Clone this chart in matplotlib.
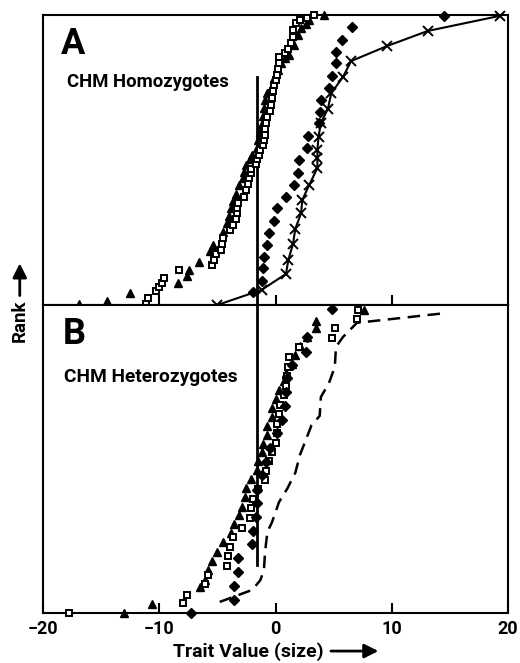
import matplotlib.pyplot as plt

plt.rcParams['font.family'] = ['Roboto', 'DejaVu Sans']
plt.rcParams['font.weight'] = 'bold'

# Panel A: CHM homozygotes (trait value, rank in % of panel height)
a_sq_x = [-11.1, -11.0, -10.3, -10.0, -9.8, -9.6, -8.3, -5.5, -5.3, -5.1, -4.7, -4.6, -4.5,
          -3.9, -3.7, -3.4, -3.3, -3.3, -3.2, -2.7, -2.5, -2.4, -2.3, -2.1, -2.1, -1.7, -1.6,
          -1.4, -1.3, -1.1, -1.0, -0.9, -0.9, -0.8, -0.7, -0.5, -0.4, -0.3, -0.2, -0.1, 0.0,
          0.1, 0.2, 0.3, 0.3, 0.8, 1.1, 1.3, 1.5, 1.5, 1.8, 2.1, 2.7, 3.3]
a_sq_y = [0.3, 2.4, 4.8, 6.2, 7.6, 9.3, 12.1, 13.8, 15.5, 17.6, 19.0, 21.0, 23.1, 25.9, 27.6,
          29.7, 31.7, 33.4, 35.2, 37.2, 39.7, 41.7, 43.8, 45.5, 46.9, 48.6, 50.3, 51.7, 53.4,
          55.2, 56.9, 58.6, 60.7, 62.8, 64.8, 66.9, 69.0, 71.4, 73.8, 75.9, 77.6, 79.3, 81.4,
          83.4, 85.5, 86.9, 88.3, 90.3, 92.4, 94.8, 97.2, 98.3, 99.0, 100.0]

a_tri_x = [-16.9, -14.5, -12.5, -8.4, -7.6, -7.4, -6.6, -5.6, -5.4, -4.5, -4.2, -4.0, -3.8,
           -3.7, -3.4, -3.1, -2.8, -2.7, -2.5, -2.2, -2.0, -1.6, -1.5, -1.3, -1.2, -1.1, -1.0,
           -0.9, -0.7, -0.3, -0.1, 0.2, 0.5, 0.8, 1.2, 1.6, 1.9, 2.2, 2.6, 2.9, 4.2]
a_tri_y = [0.3, 1.4, 4.1, 7.6, 10.0, 12.1, 14.8, 18.6, 20.7, 25.2, 28.3, 30.7, 33.4, 35.9,
           38.3, 41.4, 43.8, 45.9, 48.3, 50.3, 51.7, 54.1, 56.9, 59.7, 62.4, 65.2, 67.9, 70.7,
           73.1, 75.5, 78.3, 81.0, 83.4, 85.2, 86.2, 89.7, 93.1, 95.5, 96.9, 98.3, 100.0]

a_dia_x = [-1.9, -1.2, -1.1, -1.0, -0.7, -0.6, -0.1, 0.1, 0.9, 1.6, 1.9, 2.0, 2.7, 2.8, 3.7,
           3.8, 3.9, 4.6, 4.9, 5.2, 5.2, 5.7, 6.6, 14.5]
a_dia_y = [4.6, 8.3, 12.7, 16.7, 20.7, 24.8, 29.0, 33.3, 37.3, 41.4, 45.5, 50.0, 54.0, 58.3,
           62.7, 66.7, 70.7, 74.7, 79.0, 83.3, 87.3, 91.4, 95.8, 99.7]

a_x_x = [-5.0, -1.2, 0.9, 1.1, 1.5, 1.7, 2.2, 2.3, 2.9, 3.6, 3.6, 3.6, 3.7, 3.9, 4.5, 4.8,
         5.8, 6.5, 9.6, 13.1, 19.3]
a_x_y = [0.0, 5.2, 10.7, 15.5, 21.0, 26.2, 31.7, 36.2, 41.4, 47.2, 50.7, 53.4, 57.9, 62.8,
         67.6, 73.1, 78.6, 84.1, 89.3, 94.5, 99.7]

# Panel B: CHM heterozygotes
b_sq_x = [-17.8, -8.0, -7.6, -6.1, -5.8, -4.2, -4.1, -3.9, -3.7, -2.9, -2.2, -2.1, -1.9, -1.5,
          -0.9, -0.8, -0.6, -0.3, 0.0, 0.1, 0.1, 0.3, 0.4, 0.7, 0.9, 1.0, 1.1, 1.2, 2.0, 4.9,
          5.1, 7.0, 7.1]
b_sq_y = [0.0, 3.2, 5.8, 9.4, 12.3, 15.3, 18.5, 21.4, 24.7, 27.6, 30.8, 34.1, 37.0, 40.3,
          43.2, 46.1, 49.4, 52.3, 55.2, 58.4, 61.4, 64.6, 67.5, 70.8, 73.7, 76.9, 79.9, 83.1,
          86.4, 89.3, 92.5, 95.5, 98.4]

b_tri_x = [-13.0, -10.6, -6.5, -6.1, -5.8, -5.5, -5.0, -4.5, -3.8, -3.6, -3.1, -2.9, -2.6,
           -2.5, -2.1, -1.6, -1.5, -1.2, -1.1, -0.7, -0.7, -0.3, -0.3, 0.0, 0.3, 0.7, 0.9,
           1.4, 1.7, 2.1, 2.7, 3.5, 3.5, 7.6]
b_tri_y = [0.0, 2.9, 8.4, 10.7, 14.0, 16.9, 19.8, 23.1, 26.0, 28.9, 31.8, 34.4, 37.7, 40.6,
           43.5, 46.4, 49.4, 52.3, 54.9, 57.8, 60.7, 63.6, 66.6, 69.5, 72.4, 75.3, 77.9, 80.8,
           83.8, 86.7, 89.6, 92.5, 94.8, 98.4]

b_dia_x = [-7.3, -3.6, -3.6, -3.2, -3.2, -2.0, -1.9, -1.7, -1.6, -1.6, -1.2, -0.8, -0.5, 0.1,
           0.6, 0.8, 0.9, 1.0, 1.4, 2.6, 2.7, 4.9]
b_dia_y = [0.0, 4.2, 8.8, 13.3, 17.9, 22.4, 26.6, 31.2, 35.7, 39.9, 44.8, 49.0, 53.6, 58.4,
           62.7, 67.2, 71.8, 76.3, 80.5, 84.7, 89.6, 98.7]

b_dash_x = [-4.8, -2.0, -1.3, -1.0, -0.9, -0.7, -0.3, 0.3, 1.0, 1.7, 2.1, 2.7, 3.1, 3.8, 3.9,
            4.6, 5.1, 5.2, 5.8, 7.0, 14.7]
b_dash_y = [3.6, 7.5, 10.7, 14.0, 19.8, 26.3, 29.5, 36.0, 40.3, 45.5, 51.3, 57.1, 61.0, 64.0,
            70.1, 74.7, 79.9, 86.4, 89.6, 94.2, 97.4]

ref_x = -1.6
ref_a = [0, 78.6]
ref_b = [15.6, 100]

fig = plt.figure(figsize=(5.2, 6.63), dpi=100)
axA = fig.add_axes([0.0827, 0.54, 0.8943, 0.4374])
axB = fig.add_axes([0.0827, 0.0754, 0.8943, 0.4646])

sq = dict(ls='none', marker='s', ms=5, mfc='white', mec='black', mew=1.4, clip_on=False, zorder=3)
tri = dict(ls='none', marker='^', ms=6, color='black', clip_on=False, zorder=3)
dia = dict(ls='none', marker='D', ms=5, color='black', clip_on=False, zorder=3)

axA.plot([ref_x, ref_x], ref_a, color='black', lw=2, zorder=2)
axA.plot(a_tri_x, a_tri_y, **tri)
axA.plot(a_sq_x, a_sq_y, **sq)
axA.plot(a_dia_x, a_dia_y, **dia)
axA.plot(a_x_x, a_x_y, color='black', lw=1.5, marker='x', ms=7, mew=1.4, clip_on=False, zorder=3)

axB.plot([ref_x, ref_x], ref_b, color='black', lw=2, zorder=2)
axB.plot(b_dash_x, b_dash_y, color='black', lw=1.8, ls=(0, (5, 3)), zorder=2)
axB.plot(b_tri_x, b_tri_y, **tri)
axB.plot(b_sq_x, b_sq_y, **sq)
axB.plot(b_dia_x, b_dia_y, **dia)

for ax in (axA, axB):
    ax.set_xlim(-20, 20)
    ax.set_ylim(0, 100)
    ax.set_yticks([])
    for s in ax.spines.values():
        s.set_linewidth(1.5)

axA.set_xticks([-10, 0, 10])
axA.tick_params(axis='x', direction='in', length=7, width=1.5, labelbottom=False)
axB.set_xticks([-20, -10, 0, 10, 20])
axB.tick_params(axis='x', direction='in', length=7, width=1.5, pad=5, labelsize=13)
for lab in axB.get_xticklabels():
    lab.set_fontweight('bold')

axA.text(-18.5, 90, 'A', fontsize=26, fontweight='bold', va='center')
axA.text(-17.9, 77, 'CHM Homozygotes', fontsize=13.3, fontweight='bold', va='center')
axB.text(-18.3, 90.5, 'B', fontsize=26, fontweight='bold', va='center')
axB.text(-18.2, 76.7, 'CHM Heterozygotes', fontsize=13.8, fontweight='bold', va='center')

fig.text(0.478, 0.017, 'Trait Value (size)', fontsize=14, fontweight='bold', ha='center', va='center')
fig.text(0.038, 0.516, 'Rank', fontsize=13.5, fontweight='bold', rotation=90, ha='center', va='center')
fig.add_artist(plt.matplotlib.patches.FancyArrowPatch((0.631, 0.018), (0.733, 0.018),
               transform=fig.transFigure, arrowstyle='-|>,head_length=0.6,head_width=0.3',
               mutation_scale=14, color='black', lw=2))
fig.add_artist(plt.matplotlib.patches.FancyArrowPatch((0.038, 0.55), (0.038, 0.607),
               transform=fig.transFigure, arrowstyle='-|>,head_length=0.6,head_width=0.3',
               mutation_scale=14, color='black', lw=2))

fig.savefig('out.png', dpi=100)
